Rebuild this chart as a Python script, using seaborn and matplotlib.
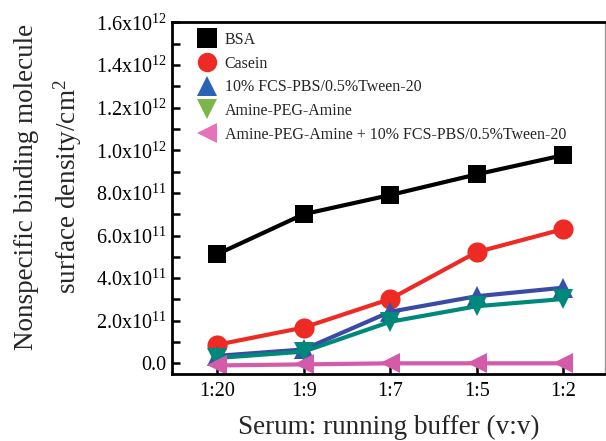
import numpy as np
import pandas as pd
import matplotlib
matplotlib.use("Agg")
import matplotlib.pyplot as plt
from matplotlib.lines import Line2D
import seaborn as sns

categories = ["1:20", "1:9", "1:7", "1:5", "1:2"]
bsa = [5.12e11, 7.00e11, 7.90e11, 8.87e11, 9.77e11]
casein = [0.87e11, 1.68e11, 3.02e11, 5.22e11, 6.30e11]
fcs = [0.35e11, 0.65e11, 2.42e11, 3.15e11, 3.55e11]
peg = [0.25e11, 0.55e11, 1.95e11, 2.68e11, 3.02e11]
peg_fcs = [-0.10e11, -0.05e11, 0.0, 0.0, 0.0]
series_names = ["BSA", "Casein", "10% FCS-PBS/0.5%Tween-20", "Amine-PEG-Amine",
                "Amine-PEG-Amine + 10% FCS-PBS/0.5%Tween-20"]
ytick_vals = [0.0, 2e11, 4e11, 6e11, 8e11, 1e12, 1.2e12, 1.4e12, 1.6e12]
ytick_labels = ["0.0", r"2.0x10$^{11}$", r"4.0x10$^{11}$", r"6.0x10$^{11}$", r"8.0x10$^{11}$",
                r"1.0x10$^{12}$", r"1.2x10$^{12}$", r"1.4x10$^{12}$", r"1.6x10$^{12}$"]

sns.set_style("ticks")
plt.rcParams["font.family"] = ["Liberation Serif", "DejaVu Serif"]
plt.rcParams["mathtext.fontset"] = "custom"
plt.rcParams["mathtext.rm"] = "Liberation Serif"
plt.rcParams["mathtext.it"] = "Liberation Serif:italic"

fig = plt.figure(figsize=(6.06, 4.41), dpi=100)
ax = fig.add_axes([0.284, 0.152, 0.714, 0.797])

x = np.arange(len(categories))
styles = [
    (bsa, "s", "black", "black", 12.5),
    (casein, "o", "#ee2a24", "#ee2a24", 14.5),
    (fcs, "^", "#3a4ba5", "#3652a8", 15),
    (peg, "v", "#00897b", "#00897b", 15),
    (peg_fcs, "<", "#d65aaa", "#d65aaa", 15),
]
for vals, mk, lc, mc, ms in styles:
    sns.lineplot(x=x, y=vals, ax=ax, color=lc, linewidth=3, marker=mk,
                 markersize=ms, markerfacecolor=mc, markeredgecolor=mc,
                 markeredgewidth=0)

ax.set_xlim(-0.52, 4.48)
ax.set_ylim(-0.5e11, 1.6e12)
ax.set_xticks(x)
ax.set_xticklabels(categories)
ax.set_yticks(ytick_vals)
ax.set_yticklabels(ytick_labels)
ax.set_yticks(np.arange(1e11, 1.6e12, 2e11), minor=True)
ax.tick_params(axis="both", which="both", direction="in", labelsize=14.5, width=1.8, length=6,
               colors="black", pad=4)
ax.tick_params(axis="x", which="both", top=False, pad=6)
ax.tick_params(axis="y", which="both", right=False)
for s in ["left", "bottom", "top"]:
    ax.spines[s].set_linewidth(2)
    ax.spines[s].set_color("black")
ax.spines["right"].set_linewidth(1)
ax.spines["right"].set_color("#999999")

ax.set_xlabel("Serum: running buffer (v:v)", fontsize=19.5, labelpad=10)
ax.set_ylabel("")
fig.text(49 / 606, 1 - 187 / 441, "Nonspecific binding molecule\nsurface density/cm$^{2}$",
         fontsize=19.5, rotation=90, ha="center", va="center", multialignment="center",
         linespacing=1.52)

legend_cols = ["black", "#ee2a24", "#2a62b5", "#7ab648", "#e673b8"]
legend_mks = ["s", "o", "^", "v", "<"]
handles = [Line2D([], [], linestyle="none", marker=m, color=c, markersize=14, markeredgewidth=0)
           for m, c in zip(legend_mks, legend_cols)]
ax.legend(handles, series_names, loc="upper left", frameon=False, fontsize=11.5,
          handlelength=1.0, handletextpad=0.6, labelspacing=0.48,
          borderaxespad=0.2, bbox_to_anchor=(0.04, 1.0))

fig.savefig("out.png", dpi=100, facecolor="white")
